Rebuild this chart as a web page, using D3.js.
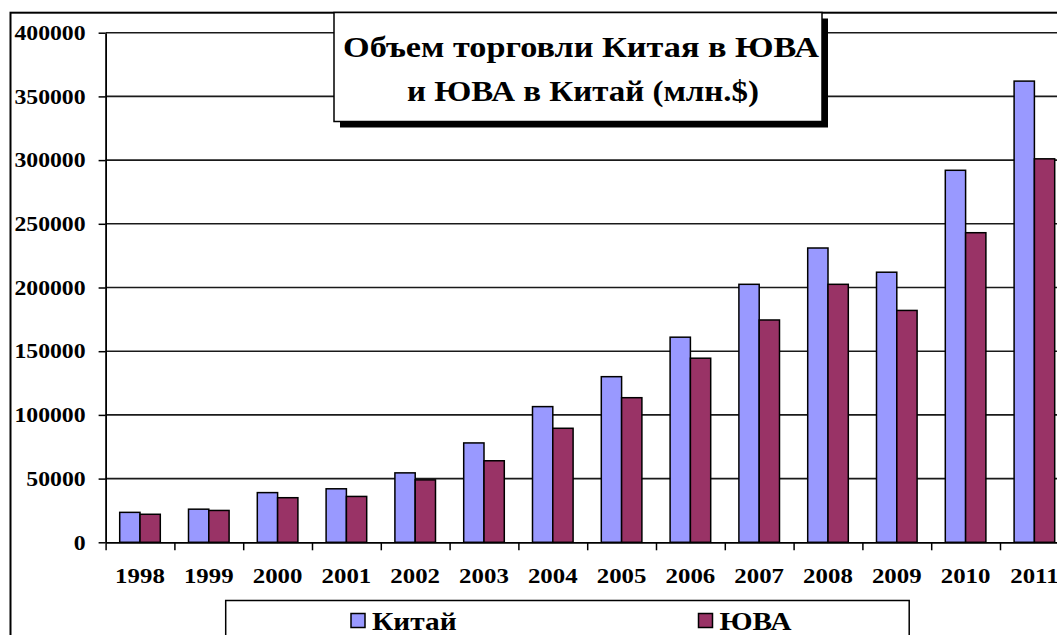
<!DOCTYPE html>
<html><head><meta charset="utf-8">
<script src="https://cdn.jsdelivr.net/npm/d3@7"></script>
<style>
html,body{margin:0;padding:0;background:#fff;overflow:hidden}
svg text{font-family:'Liberation Serif','Tinos','Times New Roman','DejaVu Serif',serif !important;font-weight:bold;fill:#000}
</style></head>
<body>
<svg id="chart" width="1057" height="635"></svg>
<script>
const years = ["1998","1999","2000","2001","2002","2003","2004","2005","2006","2007","2008","2009","2010","2011"];
const china = [23500,26000,39000,42000,54500,78000,106500,130000,161000,202500,231000,212000,292000,362000];
const sea   = [22000,25000,35000,36000,49000,64000,89500,113500,144500,174500,202500,182000,243000,301000];
const yTicks = [0,50000,100000,150000,200000,250000,300000,350000,400000];
const seriesNames = ["Китай","ЮВА"];
const colors = ["#9999FF","#993366"];
const titleLines = ["Объем торговли Китая в ЮВА","и ЮВА в Китай (млн.$)"];

const FONT = "'Liberation Serif','Tinos','Times New Roman','DejaVu Serif',serif";
const svg = d3.select("#chart");
const plot = {left:105.6, right:1068.8, top:32.7, bottom:542.3};
const sx = 1.13;

// outer border
svg.append("rect").attr("x",10.5).attr("y",12.7).attr("width",1200).attr("height",800)
  .attr("fill","#fff").attr("stroke","#000").attr("stroke-width",2);

const x = d3.scaleBand().domain(years).range([plot.left, plot.right]).paddingInner(0.41).paddingOuter(0.205);
const xs = d3.scaleBand().domain([0,1]).range([0, x.bandwidth()]);
const y = d3.scaleLinear().domain([0,400000]).range([plot.bottom, plot.top]);

// gridlines
svg.append("g").selectAll("line").data(yTicks.filter(d=>d>0)).join("line")
  .attr("x1",plot.left).attr("x2",1100).attr("y1",d=>y(d)).attr("y2",d=>y(d))
  .attr("stroke","#1a1a1a").attr("stroke-width",1.6);

// bars
const groups = svg.append("g").selectAll("g").data(years).join("g")
  .attr("transform",d=>`translate(${x(d)},0)`);
groups.selectAll("rect").data((d,i)=>[china[i],sea[i]]).join("rect")
  .attr("x",(d,j)=>xs(j)).attr("width",xs.bandwidth())
  .attr("y",d=>y(d)).attr("height",d=>y(0)-y(d))
  .attr("fill",(d,j)=>colors[j]).attr("stroke","#000").attr("stroke-width",1.5);

// y axis
const yAxis = svg.append("g").attr("transform",`translate(${plot.left},0)`)
  .call(d3.axisLeft(y).tickValues(yTicks).tickFormat(d3.format("d")).tickSize(7).tickSizeOuter(0).tickPadding(13));
yAxis.attr("font-family",FONT);
yAxis.select(".domain").attr("stroke","#000").attr("stroke-width",1.8);
yAxis.selectAll(".tick line").attr("stroke","#000").attr("stroke-width",1.5);
yAxis.selectAll(".tick text").attr("font-size",21).attr("fill","#000");

// x axis
const xAxisScale = d3.scaleLinear().domain([0, years.length]).range([plot.left, plot.right]);
const xAxis = svg.append("g").attr("transform",`translate(0,${plot.bottom})`)
  .call(d3.axisBottom(xAxisScale).tickValues(d3.range(0, years.length)).tickFormat("").tickSize(8).tickSizeOuter(0));
xAxis.select(".domain").attr("stroke","#000").attr("stroke-width",1.8);
xAxis.selectAll(".tick line").attr("stroke","#000").attr("stroke-width",1.5);
svg.append("g").selectAll("text").data(years).join("text")
  .attr("x",d=>x(d)+x.bandwidth()/2).attr("y",582.7).attr("text-anchor","middle")
  .attr("font-size",22).text(d=>d);

// title box
const tb = {x:334, y:12.5, w:488, h:109};
svg.append("rect").attr("x",tb.x+6).attr("y",tb.y+6).attr("width",tb.w).attr("height",tb.h).attr("fill","#000");
svg.append("rect").attr("x",tb.x).attr("y",tb.y).attr("width",tb.w).attr("height",tb.h)
  .attr("fill","#fff").attr("stroke","#000").attr("stroke-width",1.5);
const titleW = [476, 352];
svg.append("g").selectAll("text").data(titleLines).join("text")
  .attr("class","fixedw")
  .attr("x",(d,i)=>i===0?581:583).attr("y",(d,i)=>i===0?56.7:100.7).attr("text-anchor","middle")
  .attr("font-size",29.5)
  .attr("textLength",(d,i)=>titleW[i]).attr("lengthAdjust","spacingAndGlyphs")
  .text(d=>d);

// legend
svg.append("rect").attr("x",225.7).attr("y",600.5).attr("width",683.5).attr("height",80)
  .attr("fill","#fff").attr("stroke","#000").attr("stroke-width",1.5);
const legX = [351, 698.5];
const leg = svg.append("g").selectAll("g").data(seriesNames).join("g")
  .attr("transform",(d,i)=>`translate(${legX[i]},0)`);
leg.append("rect").attr("x",0).attr("y",613.5).attr("width",14).attr("height",14)
  .attr("fill",(d,i)=>colors[i]).attr("stroke","#000").attr("stroke-width",1.5);
leg.append("text").attr("x",21).attr("y",630).attr("font-size",26).text(d=>d);

svg.selectAll("text").attr("font-family",FONT).attr("font-weight","bold");

// horizontal stretch of text to match reference glyph widths
svg.selectAll("text:not(.fixedw)").each(function(){
  const w = this.getComputedTextLength();
  if (w>0) d3.select(this).attr("textLength", w*sx).attr("lengthAdjust","spacingAndGlyphs");
});
</script>
</body></html>
